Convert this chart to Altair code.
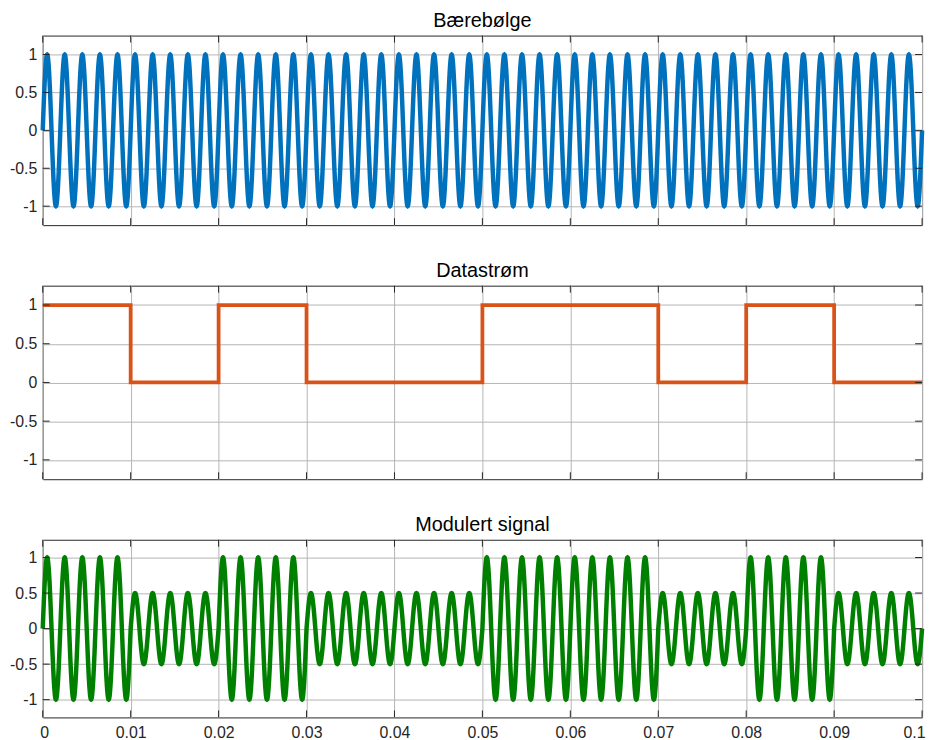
import numpy as np
import pandas as pd
import altair as alt

# ---------------- data ----------------
TITLES = ["Bærebølge", "Datastrøm", "Modulert signal"]
BITS = [1, 0, 1, 0, 0, 1, 1, 0, 1, 0]
BIT_EDGES = [0, 0.01, 0.02, 0.03, 0.04, 0.05, 0.06, 0.07, 0.08, 0.09, 0.1]
CARRIER_FREQ = 500          # Hz  (5 periods per bit)
AMP_HIGH = 1.0              # amplitude for bit 1
AMP_LOW = 0.5               # amplitude for bit 0
SAMPLES = 6001
X_TICKS = [0, 0.01, 0.02, 0.03, 0.04, 0.05, 0.06, 0.07, 0.08, 0.09, 0.1]
Y_TICKS = [-1, -0.5, 0, 0.5, 1]
COLORS = ["#0072BD", "#D95319", "#008000"]

# ---------------- derived tables ----------------
t = np.linspace(BIT_EDGES[0], BIT_EDGES[-1], SAMPLES)
carrier = np.sin(2 * np.pi * CARRIER_FREQ * t)
bit_idx = np.clip(np.searchsorted(BIT_EDGES, t, side="right") - 1, 0, len(BITS) - 1)
amp = np.where(np.array(BITS)[bit_idx] == 1, AMP_HIGH, AMP_LOW)
modulated = amp * carrier

df_carrier = pd.DataFrame({"t": t, "v": carrier})
df_bits = pd.DataFrame({"t": BIT_EDGES, "v": BITS + [BITS[-1]]})
df_mod = pd.DataFrame({"t": t, "v": modulated})
df_xt = pd.DataFrame({"t": X_TICKS})
df_yt = pd.DataFrame({"v": Y_TICKS})

W = 886
FONT = "Liberation Sans"
TICK = "#262626"
TL = 7

xs = alt.Scale(domain=[0, 0.1], nice=False, zero=False)
ys = alt.Scale(domain=[-1.25, 1.25], nice=False, zero=False)


def panel(df, color, sw, title, height, show_x, interp="linear"):
    x_axis = alt.Axis(values=X_TICKS, grid=True, ticks=False, domain=False,
                      labels=show_x, title=None, labelExpr="'' + datum.value",
                      labelPadding=7, labelFlush=True, labelFlushOffset=3)
    y_axis = alt.Axis(values=Y_TICKS, grid=True, ticks=False, domain=False,
                      title=None, labelExpr="'' + datum.value", labelPadding=6)
    X = alt.X("t:Q", scale=xs, axis=x_axis)
    Y = alt.Y("v:Q", scale=ys, axis=y_axis)
    line = alt.Chart(df).mark_line(color=color, strokeWidth=sw, interpolate=interp).encode(
        x=X, y=Y,
    )
    top = alt.Chart(df_xt).mark_rule(color=TICK, strokeWidth=1).encode(
        x=X, y=alt.value(0), y2=alt.value(TL))
    bot = alt.Chart(df_xt).mark_rule(color=TICK, strokeWidth=1).encode(
        x=X, y=alt.value(height), y2=alt.value(height - TL))
    left = alt.Chart(df_yt).mark_rule(color=TICK, strokeWidth=1).encode(
        y=Y, x=alt.value(0), x2=alt.value(TL))
    right = alt.Chart(df_yt).mark_rule(color=TICK, strokeWidth=1).encode(
        y=Y, x=alt.value(W), x2=alt.value(W - TL))
    return alt.layer(line, top, bot, left, right).properties(
        width=W, height=height,
        title=alt.TitleParams(title, fontSize=20, fontWeight="normal", font=FONT,
                              color="#000000", offset=4),
    )


p1 = panel(df_carrier, COLORS[0], 4.5, TITLES[0], 191, False)
p2 = panel(df_bits, COLORS[1], 3.8, TITLES[1], 195, False, "step-after")
p3 = panel(df_mod, COLORS[2], 4.5, TITLES[2], 179, True)

chart = alt.vconcat(p1, p2, p3, spacing=35).properties(
    padding={"left": 0, "top": 0, "right": 0, "bottom": 0}
).configure_view(
    stroke=TICK, strokeWidth=1
).configure_axis(
    gridColor="#b4b4b4", gridWidth=1, gridOpacity=1,
    labelFont=FONT, labelFontSize=16, labelColor="#262626",
)

chart.save("out.html", embed_options={"renderer": "svg", "actions": False})
